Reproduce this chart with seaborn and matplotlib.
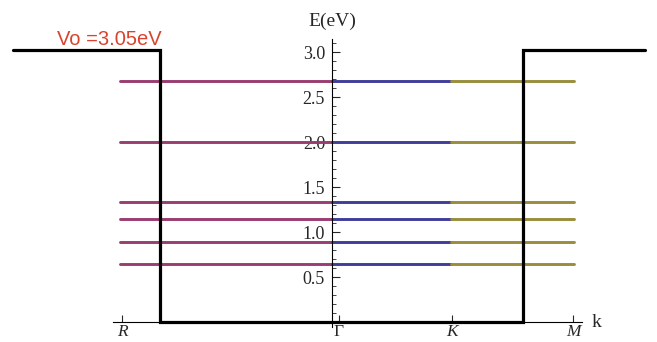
import colorsys
import matplotlib
matplotlib.use("Agg")
import matplotlib.pyplot as plt
import seaborn as sns
import pandas as pd

# energy levels (eV)
levels = [2.68, 2.00, 1.33, 1.14, 0.89, 0.645]
# k-path: tick positions and labels
k_ticks = [-2.10, 0.07, 1.20, 2.41]
k_labels = ["R", "Γ", "K", "M"]
# segments of the path where each colour is drawn
seg_names = ["R-Γ", "Γ-K", "K-M"]
seg_start = [-2.12, 0.0, 1.19]
seg_end = [0.0, 1.19, 2.42]
# quantum well
V0 = 3.02
well_x = [-3.19, -1.72, -1.72, 1.91, 1.91, 3.13]
well_y = [V0, V0, 0.0, 0.0, V0, V0]

# old Mathematica default colours
def hue(h):
    return colorsys.hsv_to_rgb(h, 0.6, 0.6)

palette = {"R-Γ": hue(0.906), "Γ-K": hue(0.67), "K-M": hue(0.145)}

rows = []
for i, e in enumerate(levels):
    for s, a, b in zip(seg_names, seg_start, seg_end):
        rows.append({"k": a, "E": e, "seg": s, "line": f"{i}{s}"})
        rows.append({"k": b, "E": e, "seg": s, "line": f"{i}{s}"})
df = pd.DataFrame(rows)

sns.set_style("white")
plt.rcParams["font.family"] = ["Liberation Serif", "DejaVu Serif"]

fig = plt.figure(figsize=(6.57, 3.42), dpi=100)
ax = fig.add_axes([0, 0, 1, 1])

sns.lineplot(data=df, x="k", y="E", hue="seg", units="line", estimator=None,
             palette=palette, linewidth=2.1, legend=False, ax=ax)
ax.plot(well_x, well_y, color="black", lw=2.3, solid_joinstyle="miter", zorder=3)

ax.set_xlim(-3.32, 3.25)
ax.set_ylim(-0.222, 3.578)

for side in ["top", "right"]:
    ax.spines[side].set_visible(False)
ax.spines["left"].set_position(("data", 0))
ax.spines["bottom"].set_position(("data", 0))
ax.spines["left"].set_bounds(-0.05, 3.14)
ax.spines["bottom"].set_bounds(-2.19, 2.50)
for side in ["left", "bottom"]:
    ax.spines[side].set_linewidth(0.8)
    ax.spines[side].set_color("black")
    ax.spines[side].set_zorder(2)

ax.set_yticks([0.5, 1.0, 1.5, 2.0, 2.5, 3.0])
ax.set_yticks([x / 10 for x in range(1, 32)], minor=True)
ax.tick_params(axis="y", which="major", direction="in", length=6, width=0.8,
               labelsize=13, pad=5, left=True)
ax.tick_params(axis="y", which="minor", direction="in", length=3, width=0.6, left=True)

ax.set_xticks(k_ticks)
ax.set_xticklabels(k_labels)
ax.tick_params(axis="x", which="major", direction="in", length=5, width=0.8,
               labelsize=12.5, pad=1.5, bottom=True)
for lab in ax.get_xticklabels():
    if lab.get_text() != "Γ":
        lab.set_style("italic")

ax.set_xlabel("")
ax.set_ylabel("")
ax.grid(False)

ax.text(0.0, 3.29, "E(eV)", fontsize=14, ha="center", va="baseline")
ax.text(2.60, 0.0, "k", fontsize=14, ha="left", va="center")
ax.text(-2.75, 3.08, "Vo =3.05eV", fontsize=14.5, color="#d9432e", ha="left",
        va="baseline", family=["Liberation Sans", "DejaVu Sans"])

fig.savefig("out.png", dpi=100)
